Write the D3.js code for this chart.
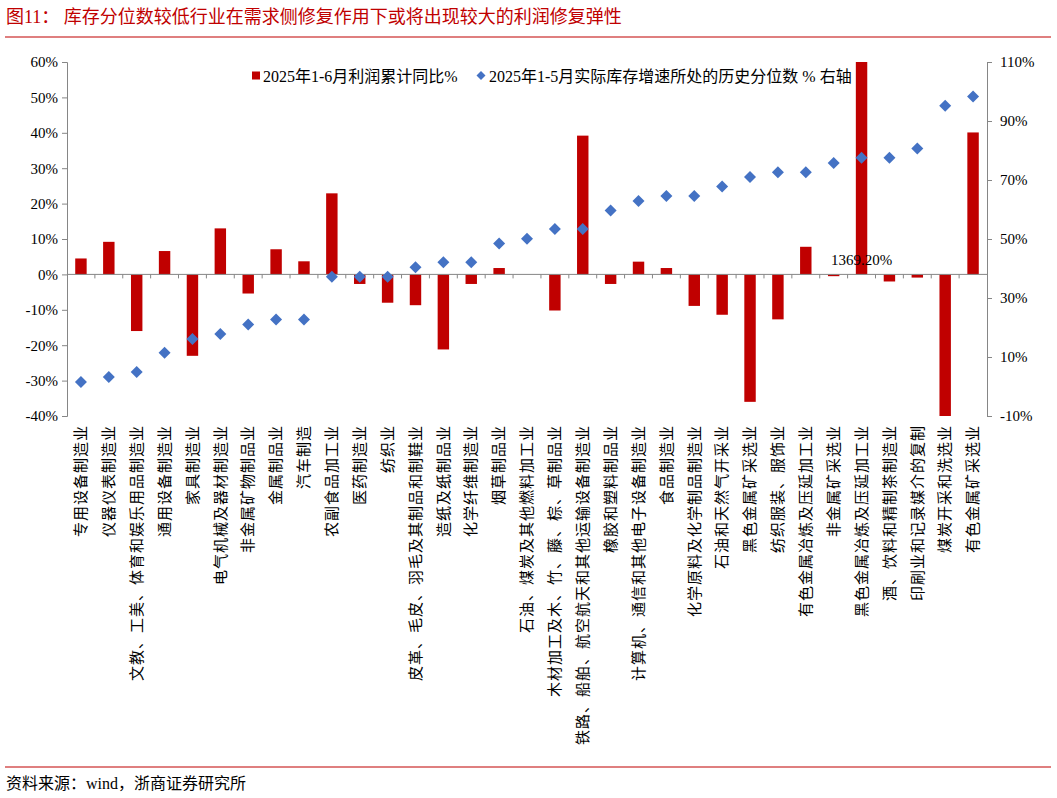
<!DOCTYPE html>
<html lang="zh">
<head>
<meta charset="UTF-8">
<title>库存分位数较低行业在需求侧修复作用下或将出现较大的利润修复弹性</title>
<script src="https://cdnjs.cloudflare.com/ajax/libs/d3/7.8.5/d3.min.js"></script>
<style>
  body { margin: 0; background: #fff; }
  svg { display: block; }
  .num { font-family: "Liberation Serif", "Noto Sans CJK SC", serif; font-size: 15px; fill: #000; }
  .cjk { font-family: "Noto Sans CJK SC", sans-serif; }
</style>
</head>
<body>
<div id="chart"></div>
<script>
// 行业（x 轴）
const industries = [
  "专用设备制造业", "仪器仪表制造业", "文教、工美、体育和娱乐用品制造业", "通用设备制造业",
  "家具制造业", "电气机械及器材制造业", "非金属矿物制品业", "金属制品业", "汽车制造",
  "农副食品加工业", "医药制造业", "纺织业", "皮革、毛皮、羽毛及其制品和制鞋业",
  "造纸及纸制品业", "化学纤维制造业", "烟草制品业", "石油、煤炭及其他燃料加工业",
  "木材加工及木、竹、藤、棕、草制品业", "铁路、船舶、航空航天和其他运输设备制造业",
  "橡胶和塑料制品业", "计算机、通信和其他电子设备制造业", "食品制造业",
  "化学原料及化学制品制造业", "石油和天然气开采业", "黑色金属矿采选业", "纺织服装、服饰业",
  "有色金属冶炼及压延加工业", "非金属矿采选业", "黑色金属冶炼及压延加工业",
  "酒、饮料和精制茶制造业", "印刷业和记录媒介的复制", "煤炭开采和洗选业", "有色金属矿采选业"
];

// 2025年1-6月利润累计同比 %（左轴）
const profitYoY = [
  4.5, 9.2, -16.0, 6.6, -23.0, 13.0, -5.4, 7.1, 3.7,
  22.9, -2.7, -8.0, -8.7, -21.2, -2.7, 1.8, 0.0,
  -10.2, 39.2, -2.7, 3.6, 1.8, -8.9, -11.4, -36.0, -12.7,
  7.8, -0.5, 1369.2, -2.0, -0.9, -53.7, 40.1
];

// 2025年1-5月实际库存增速所处的历史分位数 %（右轴）
const inventoryPct = [
  1.5, 3.2, 4.9, 11.4, 16.1, 17.8, 21.0, 22.7, 22.7,
  37.2, 37.2, 37.2, 40.4, 42.1, 42.1, 48.5, 50.1,
  53.4, 53.4, 59.7, 62.9, 64.6, 64.6, 67.8, 71.0, 72.6,
  72.6, 75.8, 77.5, 77.5, 80.7, 95.2, 98.3
];

const leftTicks = [-40, -30, -20, -10, 0, 10, 20, 30, 40, 50, 60];
const rightTicks = [-10, 10, 30, 50, 70, 90, 110];

const seriesNames = ["2025年1-6月利润累计同比%", "2025年1-5月实际库存增速所处的历史分位数 % 右轴"];

const width = 1057, height = 798;
const plot = { left: 67, right: 987, top: 62, bottom: 416 };

const svg = d3.select("#chart").append("svg")
  .attr("width", width)
  .attr("height", height);

// 标题
svg.append("text")
  .attr("x", 6).attr("y", 23)
  .attr("class", "num")
  .style("font-size", "18px")
  .style("fill", "#c00000")
  .text("图11：  库存分位数较低行业在需求侧修复作用下或将出现较大的利润修复弹性");

svg.append("line")
  .attr("x1", 5).attr("x2", 1051).attr("y1", 37).attr("y2", 37)
  .attr("stroke", "#c00000").attr("stroke-width", 1.2);

// 比例尺
const x = d3.scaleBand()
  .domain(industries)
  .range([plot.left, plot.right])
  .paddingInner(0.59)
  .paddingOuter(0.295);

const yL = d3.scaleLinear().domain([-40, 60]).range([plot.bottom, plot.top]).clamp(true);
const yR = d3.scaleLinear().domain([-10, 110]).range([plot.bottom, plot.top]);

// 柱
svg.append("g").selectAll("rect")
  .data(profitYoY)
  .join("rect")
  .attr("x", (d, i) => x(industries[i]))
  .attr("width", x.bandwidth())
  .attr("y", d => Math.min(yL(d), yL(0)))
  .attr("height", d => Math.abs(yL(d) - yL(0)))
  .attr("fill", "#c00000");

// 零线与类别刻度
const axisColor = "#868686";
svg.append("line")
  .attr("x1", plot.left).attr("x2", plot.right)
  .attr("y1", yL(0)).attr("y2", yL(0))
  .attr("stroke", axisColor);

const step = x.step();
svg.append("g").selectAll("line")
  .data(d3.range(1, industries.length))
  .join("line")
  .attr("x1", i => plot.left + i * step).attr("x2", i => plot.left + i * step)
  .attr("y1", yL(0)).attr("y2", yL(0) + 4)
  .attr("stroke", axisColor);

// 左轴
const gL = svg.append("g")
  .attr("transform", `translate(${plot.left},0)`)
  .call(d3.axisLeft(yL).tickValues(leftTicks).tickFormat(d => d + "%").tickSize(5).tickPadding(4));
gL.select(".domain").attr("stroke", axisColor);
gL.selectAll(".tick line").attr("stroke", axisColor);
gL.selectAll(".tick text").attr("class", "num").attr("fill", "#000");

// 右轴
const gR = svg.append("g")
  .attr("transform", `translate(${plot.right},0)`)
  .call(d3.axisRight(yR).tickValues(rightTicks).tickFormat(d => d + "%").tickSize(5).tickPadding(8));
gR.select(".domain").attr("stroke", axisColor);
gR.selectAll(".tick line").attr("stroke", axisColor);
gR.selectAll(".tick text").attr("class", "num").attr("fill", "#000");

// 菱形点
const diamond = d3.symbol().type(d3.symbolSquare).size(72);
svg.append("g").selectAll("path")
  .data(inventoryPct)
  .join("path")
  .attr("d", diamond)
  .attr("transform", (d, i) => `translate(${x(industries[i]) + x.bandwidth() / 2},${yR(d)}) rotate(45)`)
  .attr("fill", "#4472c4");

// 超出范围的数据标签
profitYoY.forEach((v, i) => {
  if (v > 60) {
    svg.append("text")
      .attr("class", "num")
      .attr("x", x(industries[i]) + x.bandwidth() / 2)
      .attr("y", yL(0) - 9)
      .attr("text-anchor", "middle")
      .text(v.toFixed(2) + "%");
  }
});

// 类别标签（竖排）
svg.append("g").selectAll("text")
  .data(industries)
  .join("text")
  .attr("class", "cjk")
  .attr("transform", d => `translate(${x(d) + x.bandwidth() / 2},425) rotate(-90)`)
  .attr("text-anchor", "end")
  .attr("dy", "0.35em")
  .style("font-size", "15px")
  .style("letter-spacing", "1px")
  .text(d => d);

// 图例
const lg = svg.append("g").style("font-size", "16px");
lg.append("rect").attr("x", 252).attr("y", 71.5).attr("width", 8).attr("height", 8).attr("fill", "#c00000");
lg.append("text").attr("class", "num").style("font-size", "16px").attr("x", 263).attr("y", 81.5).text(seriesNames[0]);
lg.append("path").attr("d", d3.symbol().type(d3.symbolSquare).size(40))
  .attr("transform", "translate(481,75.5) rotate(45)").attr("fill", "#4472c4");
lg.append("text").attr("class", "num").style("font-size", "16px").attr("x", 489).attr("y", 81.5).text(seriesNames[1]);

// 资料来源
svg.append("line")
  .attr("x1", 5).attr("x2", 1051).attr("y1", 767).attr("y2", 767)
  .attr("stroke", "#c00000").attr("stroke-width", 1.2);
svg.append("text")
  .attr("class", "num")
  .style("font-size", "16px")
  .attr("x", 6).attr("y", 789)
  .text("资料来源：wind，浙商证券研究所");
</script>
</body>
</html>
